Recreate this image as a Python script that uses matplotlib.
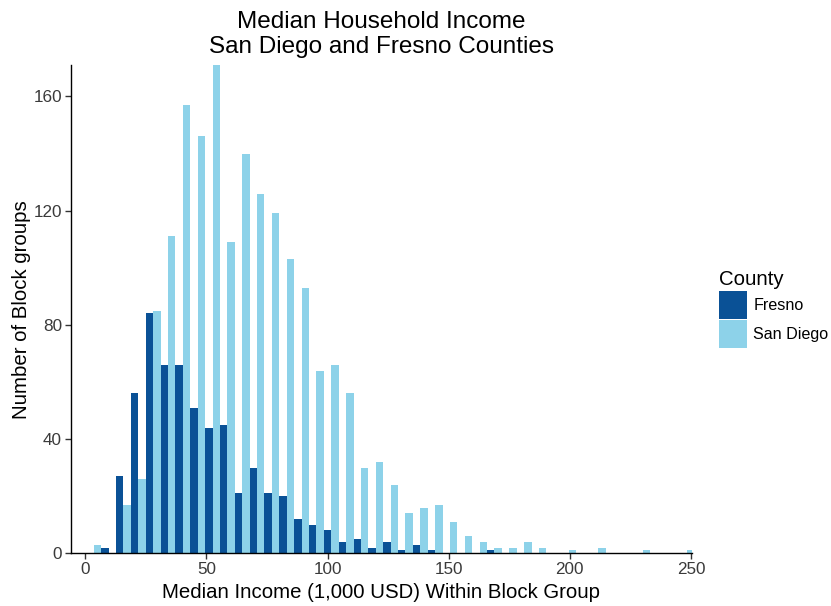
import numpy as np
import matplotlib
matplotlib.use("Agg")
import matplotlib.pyplot as plt
from matplotlib.patches import Patch

plt.rcParams['font.family'] = ['Liberation Sans', 'DejaVu Sans']

# Histogram bins (thousand USD): first bin centre and bin width
first_center = 3.5
bin_width = 6.126

# Block-group counts per bin
fresno = [0, 2, 27, 56, 84, 66, 66, 51, 44, 45, 21, 30, 21, 20, 12, 10, 8, 4, 5, 2,
          4, 1, 3, 1, 0, 0, 0, 1, 0, 0, 0, 0, 0, 0, 0, 0, 0, 0, 0, 0, 0]
san_diego = [3, 0, 17, 26, 85, 111, 157, 146, 171, 109, 140, 126, 119, 103, 93, 64, 66, 56, 30, 32,
             24, 14, 16, 17, 11, 6, 4, 2, 2, 4, 2, 0, 1, 0, 2, 0, 0, 1, 0, 0, 1]

x_ticks = [0, 50, 100, 150, 200, 250]
y_ticks = [0, 40, 80, 120, 160]

dark = "#0A5196"
light = "#8DD2E9"

centers = first_center + bin_width * np.arange(len(fresno))
half = bin_width / 2

fig = plt.figure(figsize=(8.31, 6.06), dpi=100)
W, H = 831, 606
ax = fig.add_axes([71 / W, (H - 553.3) / H, (691.7 - 71) / W, (553.3 - 65) / H])

ax.bar(centers - half / 2, fresno, width=half, color=dark, linewidth=0)
ax.bar(centers + half / 2, san_diego, width=half, color=light, linewidth=0)

ax.set_xlim(-5.9, 250.3)
ax.set_ylim(0, max(max(fresno), max(san_diego)))

for s in ["top", "right"]:
    ax.spines[s].set_visible(False)
for s in ["left", "bottom"]:
    ax.spines[s].set_color("black")
    ax.spines[s].set_linewidth(1.0)

ax.set_xticks(x_ticks)
ax.set_yticks(y_ticks)
ax.tick_params(axis="both", direction="out", length=4, width=1.0, color="#333333",
               labelsize=12.3, labelcolor="#3A3A3A", pad=2.5)

ax.set_xlabel("Median Income (1,000 USD) Within Block Group", fontsize=14.7, color="black", labelpad=4)
ax.set_ylabel("Number of Block groups", fontsize=14.7, color="black", labelpad=2)

ax.set_title("Median Household Income\nSan Diego and Fresno Counties", fontsize=17.5,
             color="black", pad=9, linespacing=1.12)

handles = [Patch(facecolor=dark, edgecolor="none", label="Fresno"),
           Patch(facecolor=light, edgecolor="none", label="San Diego")]
leg = fig.legend(handles=handles, title="County", loc="upper left",
                 bbox_to_anchor=(713 / W, 1 - 264 / H), frameon=False,
                 fontsize=11.6, title_fontsize=14.7, handlelength=1.7, handleheight=2.25,
                 labelspacing=0.1, handletextpad=0.4, borderaxespad=0)
leg._legend_box.align = "left"

fig.savefig("out.png", dpi=100)
